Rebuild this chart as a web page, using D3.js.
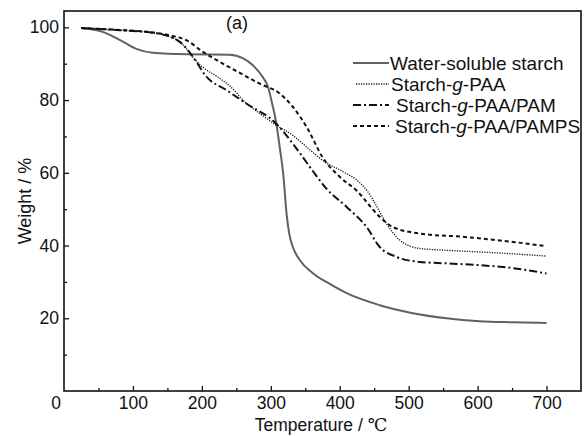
<!DOCTYPE html>
<html>
<head>
<meta charset="utf-8">
<script src="https://cdn.jsdelivr.net/npm/d3@7"></script>
<style>
  body { margin: 0; background: #fff; }
  text { font-family: Arial, "Liberation Sans", sans-serif; fill: #111; }
</style>
</head>
<body>
<div id="chart"></div>
<script>
// TGA curves, [temperature °C, weight %]
const starch = [[25,99.8],[57,98.7],[86,96],[105,94.1],[129,93],[178,92.6],[240,92.5],[260,91.5],[274,89.6],[288,86.4],[296,83.6],[302,79],[308,73.6],[313,67],[318,59.8],[323,48.5],[327,43],[332,39.6],[342,36],[361,32.4],[385,29.5],[410,26.9],[458,23.6],[506,21.4],[555,20],[603,19.2],[650,18.9],[700,18.7]];
const paa = [[25,99.8],[81,99.2],[129,98.5],[154,97.4],[172,95.4],[187,91.8],[203,88.8],[221,86.6],[241,83.8],[265,79],[284,76.3],[308,73.1],[332,70.3],[355,66.6],[376,63.3],[405,60.3],[429,57.3],[440,55],[450,52],[468,46],[487,41.5],[516,39.2],[555,38.7],[627,38],[700,37.1]];
const paaPam = [[25,99.8],[81,99.2],[129,98.5],[154,97.4],[168,96],[180,93.7],[192,90.5],[205,86.8],[236,82.7],[265,79],[308,73.5],[332,68],[361,60.5],[380,55.8],[410,50.6],[439,45.1],[458,39.6],[482,36.9],[516,35.5],[555,35.1],[603,34.6],[651,33.8],[700,32.3]];
const paaPamps = [[25,99.8],[81,99.3],[129,98.6],[154,97.8],[178,96.4],[202,93.2],[226,90.5],[250,88],[284,84.5],[313,81.8],[330,78.6],[352,72.6],[376,64],[400,58.9],[424,55.2],[458,47.9],[477,45.1],[516,43.3],[579,42.4],[651,41],[700,39.8]];

const seriesNames = ["Water-soluble starch", "Starch-g-PAA", "Starch-g-PAA/PAM", "Starch-g-PAA/PAMPS"];
const xTicks = [100, 200, 300, 400, 500, 600, 700];
const xMinor = [50, 150, 250, 350, 450, 550, 650];
const yTicks = [20, 40, 60, 80, 100];
const yMinor = [10, 30, 50, 70, 90];

const styles = [
  { color: "#616161", width: 2, dash: null },
  { color: "#111", width: 1.3, dash: "1.2,1.3" },
  { color: "#111", width: 2, dash: "8,3,2,3" },
  { color: "#111", width: 2, dash: "4,3" }
];
const allSeries = [starch, paa, paaPam, paaPamps];

const W = 588, H = 436;
const margin = { top: 11, right: 7, bottom: 45, left: 64 };

const svg = d3.select("#chart").append("svg")
  .attr("width", W).attr("height", H);

const x = d3.scaleLinear([0, 750], [margin.left, W - margin.right]);
const y = d3.scaleLinear([0, 104.5], [H - margin.bottom, margin.top]);

// curves
const line = d3.line()
  .x(d => x(d[0]))
  .y(d => y(d[1]))
  .curve(d3.curveMonotoneX);

svg.append("g").selectAll("path")
  .data(allSeries)
  .join("path")
  .attr("fill", "none")
  .attr("stroke", (d, i) => styles[i].color)
  .attr("stroke-width", (d, i) => styles[i].width)
  .attr("stroke-dasharray", (d, i) => styles[i].dash)
  .attr("d", line);

// axes, ticks pointing inward
svg.append("g")
  .attr("transform", `translate(0,${y(0)})`)
  .call(d3.axisBottom(x).tickValues(xTicks).tickSize(-5).tickPadding(6).tickSizeOuter(0));
svg.append("g")
  .attr("transform", `translate(0,${y(0)})`)
  .call(d3.axisBottom(x).tickValues(xMinor).tickSize(-3).tickFormat("").tickSizeOuter(0));

svg.append("g")
  .attr("transform", `translate(${x(0)},0)`)
  .call(d3.axisLeft(y).tickValues(yTicks).tickSize(-5).tickPadding(5).tickSizeOuter(0));
svg.append("g")
  .attr("transform", `translate(${x(0)},0)`)
  .call(d3.axisLeft(y).tickValues(yMinor).tickSize(-3).tickFormat("").tickSizeOuter(0));

svg.selectAll(".tick text").attr("font-size", 17.5).attr("fill", "#111")
  .style("font-family", "Arial, 'Liberation Sans', sans-serif");
svg.selectAll(".tick line").attr("stroke", "#111").attr("stroke-width", 1.3);
svg.selectAll(".domain").remove();

// frame
svg.append("rect")
  .attr("x", x(0)).attr("y", y(104.5))
  .attr("width", x(750) - x(0)).attr("height", y(0) - y(104.5))
  .attr("fill", "none").attr("stroke", "#111").attr("stroke-width", 1.6);

// lone origin label
svg.append("text")
  .attr("x", x(0) - 8).attr("y", y(0) + 18)
  .attr("text-anchor", "middle").attr("font-size", 17.5)
  .text("0");

// axis titles
const xt = svg.append("text")
  .attr("x", 321).attr("y", 431)
  .attr("text-anchor", "middle").attr("font-size", 17.5);
xt.append("tspan").text("Temperature / ");
xt.append("tspan").style("font-family", "'Liberation Serif', 'DejaVu Serif', serif").text("℃");

svg.append("text")
  .attr("transform", `translate(31,${(y(0) + y(104.5)) / 2}) rotate(-90)`)
  .attr("text-anchor", "middle").attr("font-size", 18)
  .text("Weight / %");

svg.append("text")
  .attr("x", 237).attr("y", 29)
  .attr("text-anchor", "middle").attr("font-size", 18)
  .text("(a)");

// legend
const legend = svg.append("g");
const rowY = [63, 84, 105, 126];
const textX = [390, 391, 396, 395];
seriesNames.forEach((name, i) => {
  legend.append("line")
    .attr("x1", i === 1 ? 356 : 353).attr("x2", 389)
    .attr("y1", rowY[i]).attr("y2", rowY[i])
    .attr("stroke", styles[i].color)
    .attr("stroke-width", styles[i].width)
    .attr("stroke-dasharray", styles[i].dash);
  const t = legend.append("text")
    .attr("x", textX[i]).attr("y", rowY[i] + 7)
    .attr("font-size", 19);
  const parts = name.split("-g-");
  if (parts.length === 2) {
    t.append("tspan").text(parts[0] + "-");
    t.append("tspan").attr("font-style", "italic").text("g");
    t.append("tspan").text("-" + parts[1]);
  } else {
    t.text(name);
  }
});
</script>
</body>
</html>
